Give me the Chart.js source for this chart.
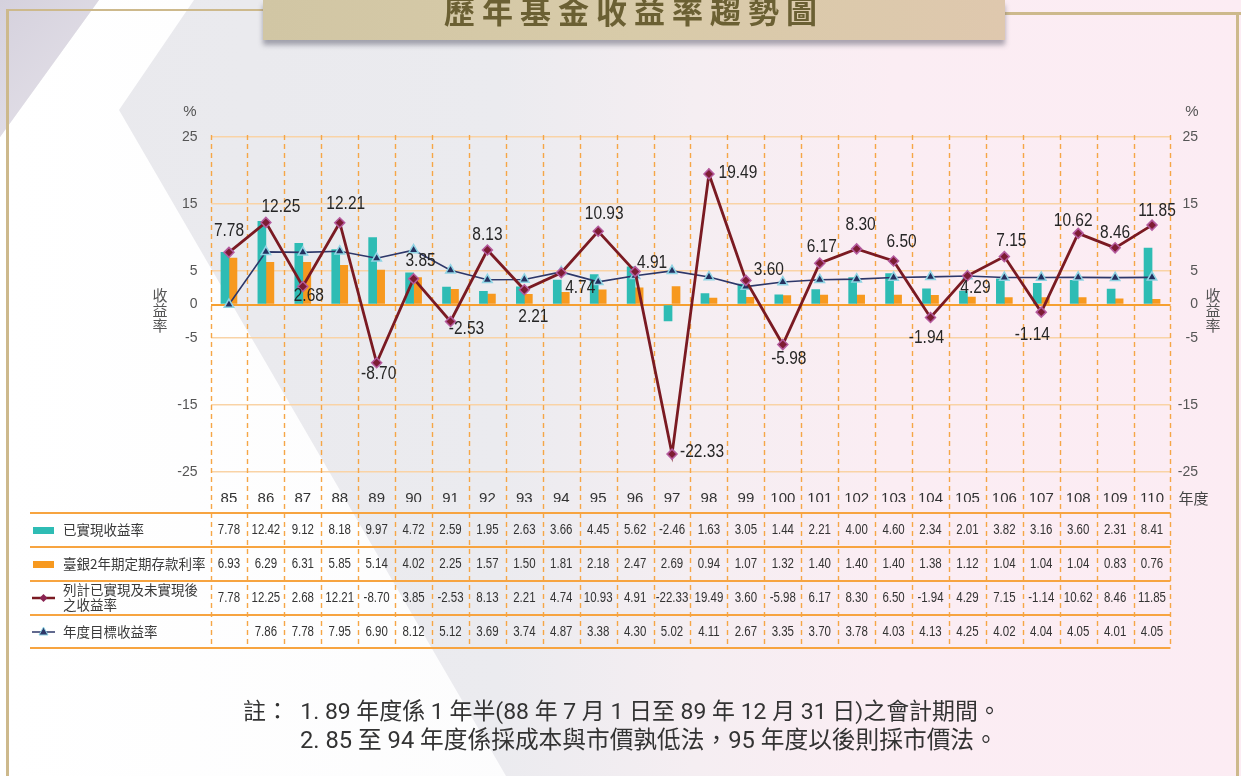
<!DOCTYPE html>
<html lang="zh-Hant">
<head>
<meta charset="utf-8">
<title>歷年基金收益率趨勢圖</title>
<script src="https://cdn.jsdelivr.net/npm/chart.js@4.4.1/dist/chart.umd.min.js"></script>
<style>
  html, body { margin: 0; padding: 0; }
  body {
    width: 1241px; height: 776px; position: relative; overflow: hidden;
    background: linear-gradient(90deg, #e9e9ed 0%, #ebebef 40%, #f5eef2 56%, #fbedf3 72%, #fcecf3 100%);
    font-family: "Noto Sans CJK TC", sans-serif;
  }
  .white {
    position: absolute; left: 0; top: 0; width: 1241px; height: 776px;
    background: linear-gradient(90deg, #ffffff 0%, #fbfbfc 60%, #f5f5f7 100%);
    clip-path: polygon(99px 0, 194px 0, 119px 110px, 506px 776px, 0 776px, 0 137px);
  }
  .lav {
    position: absolute; left: 0; top: 0; width: 100px; height: 140px;
    background: linear-gradient(135deg, #d5d1dd, #e6e3ea);
    clip-path: polygon(0 0, 99px 0, 0 137px);
  }
  .frame { position: absolute; background: #cdb98c; }
  .banner {
    position: absolute; left: 263px; top: 0; width: 742px; height: 40px;
    background: linear-gradient(90deg, #d1c6a4 0%, #d8cba9 50%, #dfc8ae 100%);
    box-shadow: 0 5px 5px rgba(70, 70, 90, 0.45);
    z-index: 3; overflow: hidden;
  }
  .banner span {
    position: absolute; left: 0; right: 0; top: -10px; text-align: center;
    font-size: 31px; line-height: 40px; font-weight: bold; letter-spacing: 7px;
    color: #6b6033;
  }
  canvas { position: absolute; left: 0; top: 0; z-index: 2; }
  .note {
    position: absolute; z-index: 3; color: #333; font-size: 21px; line-height: 29px;
    white-space: nowrap; font-family: Roboto, "Noto Sans CJK TC", sans-serif;
  }
</style>
</head>
<body>
<div class="white"></div>
<div class="lav"></div>
<div class="frame" style="left:6px; top:9px; width:3px; height:767px;"></div>
<div class="frame" style="left:6px; top:9px; width:260px; height:2px;"></div>
<div class="frame" style="left:1000px; top:12px; width:241px; height:3px;"></div>
<div class="frame" style="left:1236px; top:12px; width:3px; height:764px;"></div>
<div class="banner"><span>歷年基金收益率趨勢圖</span></div>

<canvas id="trend" width="1241" height="776"></canvas>

<div class="note" data-width="758" style="left:243px; top:697px;">註：&nbsp;&nbsp;1. 89 年度係 1 年半(88 年 7 月 1 日至 89 年 12 月 31 日)之會計期間。</div>
<div class="note" data-width="698" style="left:300px; top:726px;">2. 85 至 94 年度係採成本與市價孰低法，95 年度以後則採市價法。</div>

<script>
// 年度
const years = ['85', '86', '87', '88', '89', '90', '91', '92', '93', '94', '95', '96', '97',
               '98', '99', '100', '101', '102', '103', '104', '105', '106', '107', '108', '109', '110'];

// 已實現收益率
const realizedReturn = [7.78, 12.42, 9.12, 8.18, 9.97, 4.72, 2.59, 1.95, 2.63, 3.66, 4.45, 5.62, -2.46,
                        1.63, 3.05, 1.44, 2.21, 4.00, 4.60, 2.34, 2.01, 3.82, 3.16, 3.60, 2.31, 8.41];

// 臺銀2年期定期存款利率
const depositRate = [6.93, 6.29, 6.31, 5.85, 5.14, 4.02, 2.25, 1.57, 1.50, 1.81, 2.18, 2.47, 2.69,
                     0.94, 1.07, 1.32, 1.40, 1.40, 1.40, 1.38, 1.12, 1.04, 1.04, 1.04, 0.83, 0.76];

// 列計已實現及未實現後之收益率
const totalReturn = [7.78, 12.25, 2.68, 12.21, -8.70, 3.85, -2.53, 8.13, 2.21, 4.74, 10.93, 4.91, -22.33,
                     19.49, 3.60, -5.98, 6.17, 8.30, 6.50, -1.94, 4.29, 7.15, -1.14, 10.62, 8.46, 11.85];

// 年度目標收益率 (85 年度無資料)
const targetReturn = [null, 7.86, 7.78, 7.95, 6.90, 8.12, 5.12, 3.69, 3.74, 4.87, 3.38, 4.30, 5.02,
                      4.11, 2.67, 3.35, 3.70, 3.78, 4.03, 4.13, 4.25, 4.02, 4.04, 4.05, 4.01, 4.05];

// y 軸只標示這些刻度
const yTicksShown = [25, 15, 5, 0, -5, -15, -25];

// label offset from each point of the total-return line, [dx, dy]
const labelNudge = [[0, -21], [15, -15], [6, 9], [6, -19], [2, 11], [7, -18], [16, 8], [0, -15],
                    [9, 27], [19, 15], [6, -17], [17, -9], [30, -2], [29, -1], [23, -10], [6, 14],
                    [2, -16], [4, -24], [8, -19], [-4, 21], [8, 12], [7, -16], [-9, 23], [-5, -12],
                    [0, -15], [5, -14]];

const TEAL = '#2ebcb4';
const ORANGE = '#f7991f';
const MAROON = '#7a1a22';
const NAVY = '#2d3769';
const NUM_FONT = '"Liberation Sans", sans-serif';
const CJK_FONT = '"Noto Sans CJK TC", sans-serif';

const tableRows = [
  {label: ['已實現收益率'], values: realizedReturn, icon: 'teal', y: 530},
  {label: ['臺銀2年期定期存款利率'], values: depositRate, icon: 'orange', y: 564},
  {label: ['列計已實現及未實現後', '之收益率'], values: totalReturn, icon: 'maroon', y: 598},
  {label: ['年度目標收益率'], values: targetReturn, icon: 'navy', y: 632}
];
const tableLines = [513, 547, 581, 615, 648];

// the original uses a condensed face; squeeze regular glyphs horizontally
function fillNarrow(ctx, text, x, y, sx) {
  ctx.save();
  ctx.translate(x, y);
  ctx.scale(sx, 1);
  ctx.fillText(text, 0, 0);
  ctx.restore();
}

function drawTriangle(ctx, x, y, r, fill, stroke) {
  ctx.beginPath();
  ctx.moveTo(x, y - r);
  ctx.lineTo(x + r * 0.9, y + r * 0.6);
  ctx.lineTo(x - r * 0.9, y + r * 0.6);
  ctx.closePath();
  ctx.fillStyle = fill; ctx.fill();
  ctx.strokeStyle = stroke; ctx.lineWidth = 1; ctx.stroke();
}

// dashed column separators, running from the top of the plot down through the table
const columnLines = {
  id: 'columnLines',
  beforeDatasetsDraw(chart) {
    const x = chart.scales.x;
    const ctx = chart.ctx;
    const step = x.getPixelForValue(1) - x.getPixelForValue(0);
    ctx.save();
    ctx.strokeStyle = '#f6a646';
    ctx.lineWidth = 1.4;
    ctx.setLineDash([5, 4]);
    for (let i = 0; i <= years.length; i++) {
      const px = Math.round(x.getPixelForValue(0) - step / 2 + i * step) + 0.5;
      ctx.beginPath();
      ctx.moveTo(px, chart.chartArea.top - 2);
      ctx.lineTo(px, tableLines[tableLines.length - 1]);
      ctx.stroke();
    }
    ctx.restore();
  }
};

// value labels on the total-return line
const pointLabels = {
  id: 'pointLabels',
  afterDatasetsDraw(chart) {
    const ctx = chart.ctx;
    const meta = chart.getDatasetMeta(0);
    ctx.save();
    ctx.font = '18px ' + NUM_FONT;
    ctx.fillStyle = '#262626';
    ctx.textAlign = 'center';
    ctx.textBaseline = 'middle';
    meta.data.forEach((pt, i) => {
      const [dx, dy] = labelNudge[i];
      fillNarrow(ctx, totalReturn[i].toFixed(2), pt.x + dx, pt.y + dy, 0.86);
    });
    ctx.restore();
  }
};

// data table under the chart
const dataTable = {
  id: 'dataTable',
  afterDraw(chart) {
    const ctx = chart.ctx;
    const x = chart.scales.x;
    const area = chart.chartArea;
    ctx.save();

    // axis captions
    ctx.fillStyle = '#555';
    ctx.font = '15px ' + NUM_FONT;
    ctx.textAlign = 'center';
    ctx.textBaseline = 'middle';
    ctx.fillText('%', 190, 112);
    ctx.fillText('%', 1192, 112);
    ctx.font = '15px ' + CJK_FONT;
    ['收', '益', '率'].forEach((c, i) => {
      ctx.fillText(c, 160, 295 + i * 15);
      ctx.fillText(c, 1213, 295 + i * 15);
    });
    ctx.fillStyle = '#444';
    ctx.textAlign = 'left';
    ctx.fillText('年度', area.right + 8, 498);

    // row rules
    ctx.strokeStyle = '#f7a440';
    ctx.lineWidth = 2;
    tableLines.forEach(y => {
      ctx.beginPath();
      ctx.moveTo(30, y);
      ctx.lineTo(area.right, y);
      ctx.stroke();
    });

    tableRows.forEach(row => {
      // legend key
      const y = row.y;
      if (row.icon === 'teal' || row.icon === 'orange') {
        ctx.fillStyle = row.icon === 'teal' ? TEAL : ORANGE;
        ctx.fillRect(33, y - 3, 21, 7);
      } else if (row.icon === 'maroon') {
        ctx.strokeStyle = MAROON; ctx.lineWidth = 2.5;
        ctx.beginPath(); ctx.moveTo(32, y); ctx.lineTo(55, y); ctx.stroke();
        ctx.beginPath();
        ctx.moveTo(43.5, y - 4); ctx.lineTo(47.5, y); ctx.lineTo(43.5, y + 4); ctx.lineTo(39.5, y);
        ctx.closePath();
        ctx.fillStyle = '#8a2452'; ctx.fill();
      } else {
        ctx.strokeStyle = NAVY; ctx.lineWidth = 1.5;
        ctx.beginPath(); ctx.moveTo(32, y); ctx.lineTo(55, y); ctx.stroke();
        drawTriangle(ctx, 43.5, y, 5, NAVY, '#8fd4e4');
      }

      // label
      ctx.fillStyle = '#3a3a3a';
      ctx.font = '13.5px ' + CJK_FONT;
      ctx.textAlign = 'left';
      ctx.textBaseline = 'middle';
      if (row.label.length === 1) {
        ctx.fillText(row.label[0], 63, y);
      } else {
        ctx.fillText(row.label[0], 63, y - 8);
        ctx.fillText(row.label[1], 63, y + 7);
      }

      // values
      ctx.font = '14px ' + NUM_FONT;
      ctx.textAlign = 'center';
      ctx.fillStyle = '#333';
      row.values.forEach((v, i) => {
        if (v === null) return;
        fillNarrow(ctx, v.toFixed(2), x.getPixelForValue(i), y, 0.82);
      });
    });
    ctx.restore();
  }
};

const yTickLabel = v => (yTicksShown.includes(v) ? String(v) : null);

new Chart(document.getElementById('trend'), {
  type: 'bar',
  data: {
    labels: years,
    datasets: [
      {
        type: 'line',
        label: '列計已實現及未實現後之收益率',
        data: totalReturn,
        borderColor: MAROON,
        borderWidth: 2.8,
        tension: 0,
        pointStyle: 'rectRot',
        pointRadius: 5,
        pointBackgroundColor: '#7d1c33',
        pointBorderColor: '#b55b9f',
        pointBorderWidth: 1.5,
        order: 0
      },
      {
        type: 'line',
        label: '年度目標收益率',
        // blank years are plotted on the zero line, as in the original chart
        data: targetReturn.map(v => (v === null ? 0 : v)),
        borderColor: NAVY,
        borderWidth: 1.6,
        tension: 0,
        pointStyle: 'triangle',
        pointRadius: 5.5,
        pointBackgroundColor: '#25305f',
        pointBorderColor: '#8fd4e4',
        pointBorderWidth: 1.5,
        order: 1
      },
      {
        label: '已實現收益率',
        data: realizedReturn,
        backgroundColor: TEAL,
        barThickness: 8,
        order: 2
      },
      {
        label: '臺銀2年期定期存款利率',
        data: depositRate,
        backgroundColor: ORANGE,
        barThickness: 8,
        order: 2
      }
    ]
  },
  options: {
    responsive: false,
    animation: false,
    layout: {padding: {left: 0, right: 43, top: 137, bottom: 274}},
    plugins: {legend: {display: false}, tooltip: {enabled: false}},
    scales: {
      x: {
        grid: {display: false, drawTicks: false},
        border: {display: false},
        ticks: {color: '#333', font: {family: NUM_FONT, size: 15}, padding: 18, maxRotation: 0, autoSkip: false},
        afterFit: s => { s.height = 30; }
      },
      y: {
        position: 'left',
        min: -25, max: 25,
        border: {display: false},
        grid: {
          drawTicks: false,
          color: c => (c.tick && c.tick.value === 0 ? '#f6a031' : '#f9d3a6'),
          lineWidth: c => (c.tick && c.tick.value === 0 ? 2 : 1.5)
        },
        ticks: {stepSize: 5, callback: yTickLabel, color: '#555', font: {family: NUM_FONT, size: 14}, padding: 13},
        afterFit: s => { s.width = 210.5; }
      },
      y1: {
        position: 'right',
        min: -25, max: 25,
        border: {display: false},
        grid: {display: false, drawTicks: false},
        ticks: {stepSize: 5, callback: yTickLabel, color: '#555', font: {family: NUM_FONT, size: 14}, padding: 6, crossAlign: 'far'},
        afterFit: s => { s.width = 1198 - 1170.5; }
      }
    }
  },
  plugins: [columnLines, pointLabels, dataTable]
});

// size the footnote lines to the width they take in the original
document.querySelectorAll('.note').forEach(el => {
  const target = Number(el.dataset.width);
  const natural = el.getBoundingClientRect().width;
  el.style.fontSize = (21 * target / natural).toFixed(2) + 'px';
});
</script>
</body>
</html>
